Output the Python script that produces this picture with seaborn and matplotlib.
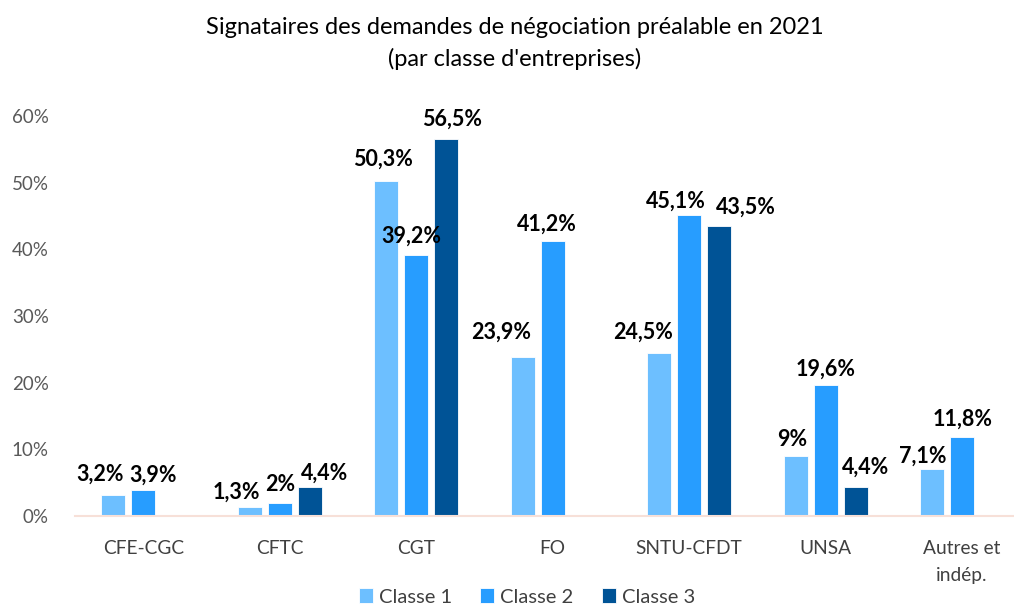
import numpy as np
import pandas as pd
import seaborn as sns
import matplotlib.pyplot as plt

categories = ['CFE-CGC', 'CFTC', 'CGT', 'FO', 'SNTU-CFDT', 'UNSA', 'Autres et\nindép.']
classes = ['Classe 1', 'Classe 2', 'Classe 3']
classe1 = [3.2, 1.3, 50.3, 23.9, 24.5, 9.0, 7.1]
classe2 = [3.9, 2.0, 39.2, 41.2, 45.1, 19.6, 11.8]
classe3 = [np.nan, 4.4, 56.5, np.nan, 43.5, 4.4, np.nan]
yticks = [0, 10, 20, 30, 40, 50, 60]

colors = ['#6DBFFF', '#279DFF', '#005396']

# label offsets (px): shift from bar centre, height of label centre above bar top
offsets = {
    'Classe 1': [(-13, 20), (-13, 15), (-3, 21), (-22, 24), (-16, 20), (-3, 16), (-9, 12)],
    'Classe 2': [(10, 15), (0, 18), (-5, 18), (-6, 17), (-13, 14), (0, 16), (0, 18)],
    'Classe 3': [(0, 0), (15, 13), (6, 20), (0, 0), (27, 19), (10, 19), (0, 0)],
}

rows = []
for cls, vals in zip(classes, [classe1, classe2, classe3]):
    for cat, v in zip(categories, vals):
        if not np.isnan(v):
            rows.append({'cat': cat, 'classe': cls, 'val': v})
df = pd.DataFrame(rows)

sns.set_style('white')
plt.rcParams['font.family'] = ['Lato', 'DejaVu Sans']

fig = plt.figure(figsize=[10.14, 6.05], dpi=100)
ax = fig.add_axes([75 / 1014, 1 - 516 / 605, 1 - 75 / 1014, 400 / 605])

sns.barplot(data=df, x='cat', y='val', hue='classe', order=categories, hue_order=classes,
            palette=colors, saturation=1, width=0.66, gap=0.2, edgecolor='white', linewidth=0.6,
            ax=ax, legend=True)

ax.set_ylim(0, 60)
ax.set_xlim(-0.5, 6.38)
ax.set_yticks(yticks)
ax.set_yticklabels(['{}%'.format(t) for t in yticks], color='#595959', fontsize=13.5)
ax.tick_params(axis='y', length=0, pad=19)
ax.tick_params(axis='x', length=0, pad=17, labelsize=13.8, labelcolor='#404040')
for lbl in ax.get_xticklabels():
    lbl.set_linespacing(1.75)
ax.set_xlabel('')
ax.set_ylabel('')
for s in ['top', 'right', 'left']:
    ax.spines[s].set_visible(False)
ax.spines['bottom'].set_color('#F7E0D8')
ax.spines['bottom'].set_linewidth(1.5)

px = 72 / 100
for cont, cls in zip(ax.containers, classes):
    for bar in cont:
        h = bar.get_height()
        if np.isnan(h) or h == 0:
            continue
        xc = bar.get_x() + bar.get_width() / 2
        i = int(round(xc))
        dx, dy = offsets[cls][i]
        txt = '{:.1f}'.format(h).replace('.0', '').replace('.', ',') + '%'
        ax.annotate(txt, (xc, h), xytext=(dx * px, dy * px), textcoords='offset points',
                    ha='center', va='center', fontsize=15.5, fontweight='bold', color='black')

leg = ax.legend(loc='center', bbox_to_anchor=(527 / 1014, 8 / 605), bbox_transform=fig.transFigure,
                ncol=3, frameon=False, fontsize=14.5, handlelength=0.7, handleheight=0.7,
                handletextpad=0.3, columnspacing=1.4, labelcolor='#404040')

fig.text(0.508, 1 - 28 / 605, "Signataires des demandes de négociation préalable en 2021",
         ha='center', va='center', fontsize=17, color='black')
fig.text(0.508, 1 - 59 / 605, "(par classe d'entreprises)",
         ha='center', va='center', fontsize=17, color='black')

plt.savefig('out.png', dpi=100)
